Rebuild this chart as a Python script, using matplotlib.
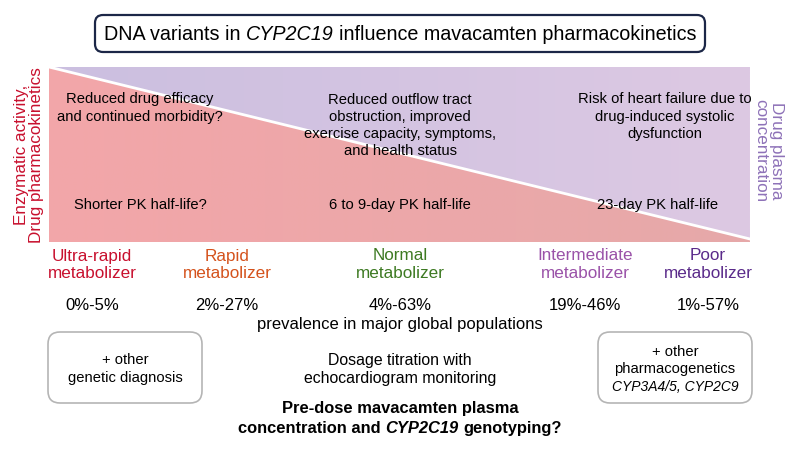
import numpy as np
import matplotlib
matplotlib.use("Agg")
import matplotlib.pyplot as plt
from matplotlib.patches import FancyBboxPatch, Polygon
from matplotlib.colors import to_rgb

plt.rcParams['font.family'] = ['Liberation Sans', 'DejaVu Sans']

# ---- data ----
categories = ["Ultra-rapid\nmetabolizer", "Rapid\nmetabolizer", "Normal\nmetabolizer",
              "Intermediate\nmetabolizer", "Poor\nmetabolizer"]
cat_colors = ["#c8102e", "#d4521c", "#3d7a22", "#9a52a8", "#5a2a8a"]
prevalence = ["0%-5%", "2%-27%", "4%-63%", "19%-46%", "1%-57%"]
cat_x = [92, 227, 400, 585, 708]

outcomes = ["Reduced drug efficacy\nand continued morbidity?",
            "Reduced outflow tract\nobstruction, improved\nexercise capacity, symptoms,\nand health status",
            "Risk of heart failure due to\ndrug-induced systolic\ndysfunction"]
outcome_x = [140, 400, 665]
outcome_y = [108, 125.5, 116.5]
half_lives = ["Shorter PK half-life?", "6 to 9-day PK half-life", "23-day PK half-life"]
half_x = [140, 400, 658]

title_parts = [("DNA variants in", 'normal'), ("CYP2C19", 'italic'),
               ("influence mavacamten pharmacokinetics", 'normal')]
question_parts = [("concentration and", 'normal'), ("CYP2C19", 'italic'),
                  ("genotyping?", 'normal')]

fig = plt.figure(figsize=(8, 4.54), dpi=100)
ax = fig.add_axes([0, 0, 1, 1])
ax.set_xlim(0, 800)
ax.set_ylim(454, 0)
ax.axis('off')
renderer = fig.canvas.get_renderer()


def width(s, **kw):
    t = ax.text(0, 0, s, **kw)
    w = t.get_window_extent(renderer).width
    t.remove()
    return w


def mixed(xc, yb, parts, **kw):
    ws = [width(p, style=st, **kw) for p, st in parts]
    sp = width("x x", **kw) - width("xx", **kw)
    total = sum(ws) + sp * (len(parts) - 1)
    x = xc - total / 2
    for (p, st), w in zip(parts, ws):
        ax.text(x, yb, p, style=st, ha='left', va='baseline', **kw)
        x += w + sp


# title box
tb = FancyBboxPatch((95, 15), 610, 37, boxstyle="round,pad=0,rounding_size=8",
                    fc="white", ec="#1c2747", lw=1.6)
ax.add_patch(tb)
mixed(400, 40, title_parts, fontsize=14.2, color='black')

# gradient triangles
x0, x1, ytop, ybot, yline = 49, 750, 67, 242, 239


def grad(c1, c2):
    a, b = np.array(to_rgb(c1)), np.array(to_rgb(c2))
    t = np.linspace(0, 1, 256)[None, :, None]
    return a[None, None, :] * (1 - t) + b[None, None, :] * t


red_poly = Polygon([(x0, ytop), (x1, yline), (x1, ybot), (x0, ybot)], closed=True,
                   fc='none', ec='none')
pur_poly = Polygon([(x0, ytop), (x1, ytop), (x1, yline)], closed=True, fc='none', ec='none')
ax.add_patch(red_poly)
ax.add_patch(pur_poly)
im1 = ax.imshow(grad("#f3a6a9", "#e6a9a9"), extent=(x0, x1, ybot, ytop), aspect='auto', zorder=1)
im1.set_clip_path(red_poly)
im2 = ax.imshow(grad("#cbbfe0", "#ddc9e3"), extent=(x0, x1, ybot, ytop), aspect='auto', zorder=1)
im2.set_clip_path(pur_poly)
ax.plot([x0, x1], [ytop, yline], color='white', lw=2, zorder=2)
ax.set_xlim(0, 800)
ax.set_ylim(454, 0)

# side labels
ax.text(29, 155, "Enzymatic activity,\nDrug pharmacokinetics", rotation=90, ha='center',
        va='center', fontsize=12.3, color="#c8102e", linespacing=1.05)
ax.text(769, 151, "Drug plasma\nconcentration", rotation=-90, ha='center',
        va='center', fontsize=12.3, color="#8e72b8", linespacing=1.05)

for t, x, y in zip(outcomes, outcome_x, outcome_y):
    ax.text(x, y, t, ha='center', va='center', fontsize=10.6, color='black',
            linespacing=1.28, zorder=3)
for t, x in zip(half_lives, half_x):
    ax.text(x, 205, t, ha='center', va='center', fontsize=10.6, color='black', zorder=3)

for t, c, x, p in zip(categories, cat_colors, cat_x, prevalence):
    ax.text(x, 265, t, ha='center', va='center', fontsize=12.3, color=c, linespacing=1.25)
    ax.text(x, 305, p, ha='center', va='center', fontsize=12, color='black')
ax.text(400, 325, "prevalence in major global populations", ha='center', va='center',
        fontsize=12, color='black')

# boxes
for bx in (48, 598):
    ax.add_patch(FancyBboxPatch((bx, 332), 154, 71, boxstyle="round,pad=0,rounding_size=12",
                                fc='white', ec="#b5b5b5", lw=1.2))
ax.text(125, 369, "+ other\ngenetic diagnosis", ha='center', va='center', fontsize=10.6,
        linespacing=1.35)
ax.text(675, 360.5, "+ other\npharmacogenetics", ha='center', va='center', fontsize=10.6,
        linespacing=1.2)
ax.text(675, 387, "CYP3A4/5, CYP2C9", ha='center', va='center', fontsize=10, style='italic')

ax.text(400, 369.5, "Dosage titration with\nechocardiogram monitoring", ha='center',
        va='center', fontsize=11.4, linespacing=1.3)
ax.text(400, 408, "Pre-dose mavacamten plasma", ha='center', va='center', fontsize=11.9,
        fontweight='bold')
mixed(400, 433, question_parts, fontsize=11.9, fontweight='bold', color='black')

fig.savefig("out.png", dpi=100)
